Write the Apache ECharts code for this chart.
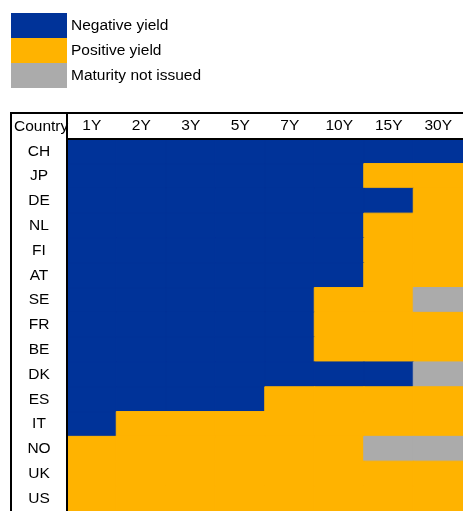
<!DOCTYPE html>
<html>
<head>
<meta charset="utf-8">
<script src="https://cdn.jsdelivr.net/npm/echarts@6/dist/echarts.min.js"></script>
<style>
html,body{margin:0;padding:0;background:#fff;}
#chart{width:463px;height:511px;}
</style>
</head>
<body>
<div id="chart"></div>
<script>
// Maturities (columns) and countries (rows)
const maturities = ['1Y','2Y','3Y','5Y','7Y','10Y','15Y','30Y'];
const countries = ['CH','JP','DE','NL','FI','AT','SE','FR','BE','DK','ES','IT','NO','UK','US'];
// Status codes: 0 = Negative yield, 1 = Positive yield, 2 = Maturity not issued
const statusLabels = ['Negative yield','Positive yield','Maturity not issued'];
const statusColors = ['#003399','#FFB300','#ABABAB'];
const rowCH = [0,0,0,0,0,0,0,0];
const rowJP = [0,0,0,0,0,0,1,1];
const rowDE = [0,0,0,0,0,0,0,1];
const rowNL = [0,0,0,0,0,0,1,1];
const rowFI = [0,0,0,0,0,0,1,1];
const rowAT = [0,0,0,0,0,0,1,1];
const rowSE = [0,0,0,0,0,1,1,2];
const rowFR = [0,0,0,0,0,1,1,1];
const rowBE = [0,0,0,0,0,1,1,1];
const rowDK = [0,0,0,0,0,0,0,2];
const rowES = [0,0,0,0,1,1,1,1];
const rowIT = [0,1,1,1,1,1,1,1];
const rowNO = [1,1,1,1,1,1,2,2];
const rowUK = [1,1,1,1,1,1,1,1];
const rowUS = [1,1,1,1,1,1,1,1];
const rows = [rowCH,rowJP,rowDE,rowNL,rowFI,rowAT,rowSE,rowFR,rowBE,rowDK,rowES,rowIT,rowNO,rowUK,rowUS];

const data = [];
rows.forEach((r, yi) => r.forEach((v, xi) => data.push({
  value: [xi, yi, v],
  itemStyle: {borderColor: statusColors[v], borderWidth: 1}
})));

const FONT = '"Liberation Sans", Arial, sans-serif';
const FS = 15.5;
const colW = 50, rowH = 25;

const chart = echarts.init(document.getElementById('chart'), null, {renderer: 'canvas'});
chart.setOption({
  animation: false,
  backgroundColor: '#fff',
  textStyle: {fontFamily: FONT},
  title: {
    text: 'Country', left: 14, top: 119, padding: 0,
    textStyle: {fontFamily: FONT, fontSize: FS, fontWeight: 'normal', color: '#000'}
  },
  grid: {left: 67, top: 139, width: colW * maturities.length, height: rowH * countries.length},
  xAxis: {
    type: 'category', data: maturities, position: 'top', z: 10,
    axisLine: {show: true, lineStyle: {color: '#000', width: 2}},
    axisTick: {show: false}, splitLine: {show: false},
    axisLabel: {color: '#000', fontSize: FS, fontFamily: FONT, margin: 5}
  },
  yAxis: {
    type: 'category', data: countries, inverse: true, z: 10,
    axisLine: {show: true, lineStyle: {color: '#000', width: 2}},
    axisTick: {show: false}, splitLine: {show: false},
    axisLabel: {color: '#000', fontSize: FS, fontFamily: FONT, align: 'center', margin: 28}
  },
  visualMap: {
    type: 'piecewise', orient: 'vertical', inverse: true, left: 11, top: 13, padding: 0,
    itemWidth: 56, itemHeight: 25, itemGap: 0, itemSymbol: 'rect', textGap: 4,
    selectedMode: false, dimension: 2,
    pieces: [
      {value: 0, label: statusLabels[0], color: statusColors[0]},
      {value: 1, label: statusLabels[1], color: statusColors[1]},
      {value: 2, label: statusLabels[2], color: statusColors[2]}
    ],
    textStyle: {color: '#000', fontSize: FS, fontFamily: FONT}
  },
  graphic: [
    {type: 'line', shape: {x1: 11, y1: 113, x2: 463, y2: 113}, style: {stroke: '#000', lineWidth: 2}, z: 100},
    {type: 'line', shape: {x1: 11, y1: 112, x2: 11, y2: 511}, style: {stroke: '#000', lineWidth: 2}, z: 100},
    {type: 'line', shape: {x1: 67, y1: 112, x2: 67, y2: 140}, style: {stroke: '#000', lineWidth: 2}, z: 100}
  ],
  series: [{
    type: 'heatmap', data: data,
    emphasis: {disabled: true}
  }]
});
</script>
</body>
</html>
